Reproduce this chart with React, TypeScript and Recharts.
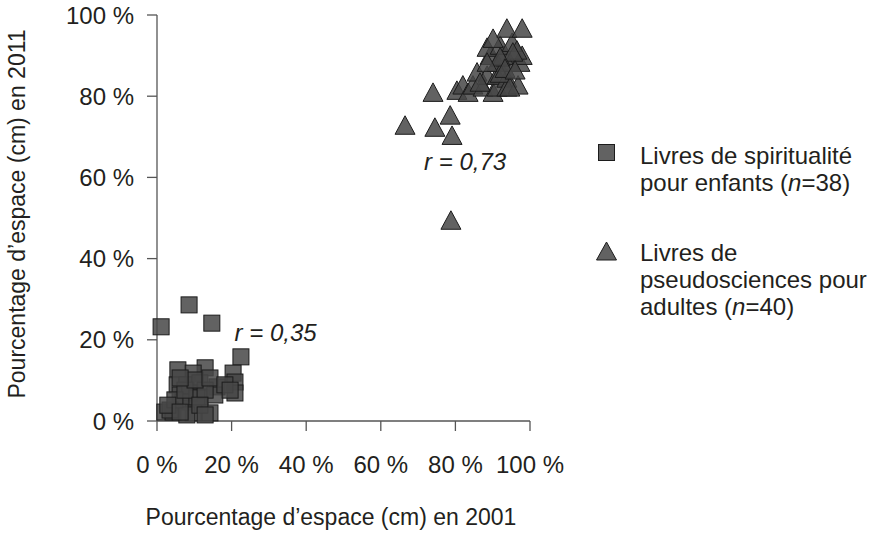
import React from "react";
import { ScatterChart, Scatter, XAxis, YAxis, ReferenceDot } from "recharts";

const FONT = "'Liberation Sans', Arial, sans-serif";
const TEXT_COLOR = "#231f20";
const AXIS_COLOR = "#555555";
const MARK_FILL = "#474747";
const MARK_STROKE = "#1c1c1c";

const AXIS_TICKS = [0, 20, 40, 60, 80, 100];

// [% en 2001, % en 2011]
const SPIRITUALITE: [number, number][] = [
  [1.1, 23.2], [8.6, 28.6], [14.7, 24.1], [22.5, 15.8],
  [5.6, 12.6], [12.9, 13.1], [9.7, 11.8], [20.4, 11.8],
  [5.4, 8.9], [8.0, 8.9], [11.5, 9.4], [16.1, 8.4],
  [20.9, 9.6], [20.9, 6.9], [6.2, 6.4], [8.8, 6.9],
  [11.5, 5.9], [15.5, 6.4], [7.0, 4.7], [10.7, 5.7],
  [2.1, 2.2], [4.3, 2.2], [9.7, 2.0], [14.2, 2.0],
  [8.0, 1.5], [3.5, 2.7], [4.8, 5.2], [7.5, 7.6],
  [12.9, 7.6], [10.2, 10.1], [6.2, 10.6], [14.2, 10.6],
  [18.2, 8.9], [11.5, 3.9], [2.9, 3.9], [12.9, 1.5],
  [6.2, 2.2], [19.6, 7.6],
];

const PSEUDOSCIENCES: [number, number][] = [
  [66.5, 72.9], [74.0, 81.0], [74.5, 72.4], [78.6, 75.4],
  [79.1, 70.4], [78.8, 49.5], [80.4, 81.5], [82.0, 82.8],
  [83.4, 81.0], [84.7, 82.8], [85.8, 86.0], [87.4, 82.3],
  [88.5, 85.2], [90.1, 81.0], [91.2, 82.3], [91.2, 85.2],
  [93.8, 84.5], [93.8, 82.3], [96.8, 82.8], [91.2, 88.4],
  [94.6, 88.4], [97.3, 88.4], [89.3, 90.1], [92.8, 90.1],
  [97.9, 90.1], [88.5, 92.1], [92.0, 92.6], [95.2, 93.3],
  [96.5, 91.4], [90.1, 94.3], [93.8, 96.8], [97.9, 96.8],
  [86.6, 83.5], [92.0, 85.7], [94.6, 82.3], [95.4, 90.9],
  [92.0, 89.7], [88.5, 88.4], [93.3, 86.9], [96.0, 86.5],
];

const CORRELATIONS = [
  { x: 20.8, y: 19.7, text: "r = 0,35" },
  { x: 71.6, y: 61.8, text: "r = 0,73" },
];

const X_LABEL = "Pourcentage d\u2019espace (cm) en 2001";
const Y_LABEL = "Pourcentage d\u2019espace (cm) en 2011";

const toPoints = (rows: [number, number][]) => rows.map(([x, y]) => ({ x, y }));

const SquareShape = (props: any) => {
  const { cx, cy } = props;
  return (
    <rect
      x={cx - 8}
      y={cy - 8}
      width={16}
      height={16}
      fill={MARK_FILL}
      fillOpacity={0.85}
      stroke={MARK_STROKE}
      strokeWidth={1}
    />
  );
};

const TriangleShape = (props: any) => {
  const { cx, cy } = props;
  const w = 20;
  const h = 18.5;
  const pts = `${cx},${cy - h / 2} ${cx + w / 2},${cy + h / 2} ${cx - w / 2},${cy + h / 2}`;
  return (
    <polygon
      points={pts}
      fill={MARK_FILL}
      fillOpacity={0.85}
      stroke={MARK_STROKE}
      strokeWidth={1}
    />
  );
};

const pct = (v: number) => `${v} %`;

const renderCorrelation = (text: string) => (props: any) => {
  const vb = props.viewBox || {};
  return (
    <text
      x={vb.x}
      y={vb.y}
      fontFamily={FONT}
      fontSize={24}
      fontStyle="italic"
      fill={TEXT_COLOR}
    >
      {text}
    </text>
  );
};

const Legend = () => (
  <div
    style={{
      position: "absolute",
      left: 596,
      top: 142,
      width: 279,
      fontFamily: FONT,
      fontSize: 24,
      lineHeight: "27px",
      color: TEXT_COLOR,
    }}
  >
    <div style={{ position: "relative", paddingLeft: 44 }}>
      <svg width={20} height={20} style={{ position: "absolute", left: 1, top: 1 }}>
        <rect x={1.5} y={1.5} width={16} height={16} fill={MARK_FILL} fillOpacity={0.85} stroke={MARK_STROKE} />
      </svg>
      <div>Livres de spiritualité</div>
      <div>
        pour enfants (<i>n</i>=38)
      </div>
    </div>
    <div style={{ position: "relative", paddingLeft: 44, marginTop: 43 }}>
      <svg width={22} height={21} style={{ position: "absolute", left: 0, top: 2 }}>
        <polygon points="10.5,1 20.5,19 0.5,19" fill={MARK_FILL} fillOpacity={0.85} stroke={MARK_STROKE} />
      </svg>
      <div>Livres de</div>
      <div>pseudosciences pour</div>
      <div>
        adultes (<i>n</i>=40)
      </div>
    </div>
  </div>
);

export default function App() {
  const tickStyle = { fill: TEXT_COLOR, fontSize: 24, fontFamily: FONT };
  return (
    <div
      style={{
        position: "absolute",
        left: 0,
        top: 0,
        width: 875,
        height: 534,
        background: "#ffffff",
        fontFamily: FONT,
      }}
    >
      <ScatterChart width={875} height={534} margin={{ top: 15, right: 345, bottom: 73, left: 97 }}>
        <XAxis
          type="number"
          dataKey="x"
          domain={[0, 100]}
          ticks={AXIS_TICKS}
          tickFormatter={pct}
          height={40}
          tickSize={10}
          tickMargin={25}
          stroke={AXIS_COLOR}
          strokeWidth={1.3}
          tick={tickStyle}
          interval={0}
        />
        <YAxis
          type="number"
          dataKey="y"
          domain={[0, 100]}
          ticks={AXIS_TICKS}
          tickFormatter={pct}
          width={60}
          tickSize={10}
          tickMargin={13}
          stroke={AXIS_COLOR}
          strokeWidth={1.3}
          tick={tickStyle}
          interval={0}
        />
        <Scatter
          name="Livres de spiritualité pour enfants (n=38)"
          data={toPoints(SPIRITUALITE)}
          shape={SquareShape}
          isAnimationActive={false}
        />
        <Scatter
          name="Livres de pseudosciences pour adultes (n=40)"
          data={toPoints(PSEUDOSCIENCES)}
          shape={TriangleShape}
          isAnimationActive={false}
        />
        {CORRELATIONS.map((c) => (
          <ReferenceDot
            key={c.text}
            x={c.x}
            y={c.y}
            r={0}
            fill="none"
            stroke="none"
            ifOverflow="visible"
            label={renderCorrelation(c.text)}
          />
        ))}
      </ScatterChart>
      <svg
        width={875}
        height={534}
        style={{ position: "absolute", left: 0, top: 0, pointerEvents: "none" }}
      >
        <text x={331} y={525} textAnchor="middle" fontFamily={FONT} fontSize={23} fill={TEXT_COLOR}>
          {X_LABEL}
        </text>
        <text
          x={25}
          y={214}
          transform="rotate(-90 25 214)"
          textAnchor="middle"
          fontFamily={FONT}
          fontSize={23}
          fill={TEXT_COLOR}
        >
          {Y_LABEL}
        </text>
      </svg>
      <Legend />
    </div>
  );
}
